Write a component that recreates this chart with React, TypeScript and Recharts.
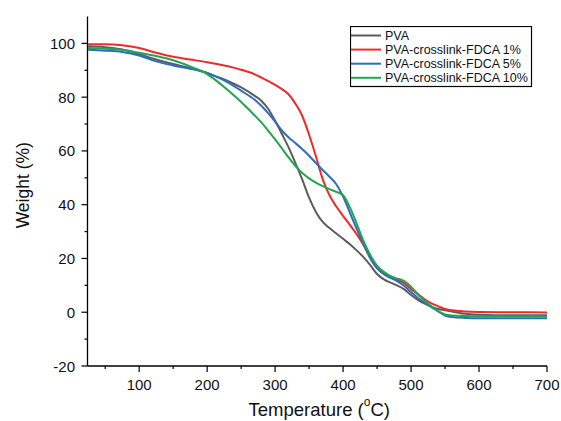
import React from 'react';
import { LineChart, Line, XAxis, YAxis, Legend } from 'recharts';

const temps = [25, 50, 75, 100, 125, 150, 175, 200, 210, 225, 240, 250, 270, 280, 290, 300, 310, 320, 330, 340, 350, 360, 370, 380, 390, 400, 410, 420, 430, 440, 450, 460, 470, 480, 490, 500, 510, 520, 530, 540, 550, 560, 580, 600, 650, 700];

const pva = [98.9, 98.6, 97.7, 96.0, 94.0, 92.3, 90.8, 89.0, 88.0, 86.6, 84.9, 83.6, 80.5, 78.6, 75.6, 71.2, 66.3, 61.2, 55.4, 49.3, 42.6, 37.3, 33.6, 31.3, 29.3, 27.3, 25.3, 23.0, 20.5, 17.5, 14.2, 12.2, 11.0, 9.9, 8.5, 6.4, 4.6, 3.2, 2.1, 1.2, 0.7, 0.3, -0.6, -0.9, -1.1, -1.1];

const fdca1 = [99.7, 99.7, 99.3, 98.3, 96.5, 95.0, 94.0, 93.0, 92.5, 91.8, 90.9, 90.2, 88.5, 87.3, 86.0, 84.6, 83.0, 81.0, 77.5, 73.0, 66.0, 58.0, 49.5, 43.5, 39.3, 35.8, 32.5, 29.0, 25.0, 20.5, 16.5, 14.2, 12.8, 12.0, 10.8, 8.6, 6.8, 4.8, 3.3, 2.2, 1.2, 0.7, 0.25, 0.1, 0.0, -0.1];

const fdca5 = [97.6, 97.3, 96.8, 95.5, 93.3, 91.8, 90.6, 89.0, 88.0, 86.2, 84.0, 82.4, 79.0, 76.7, 74.0, 70.9, 67.6, 65.0, 62.9, 60.6, 58.2, 55.5, 52.9, 50.4, 47.6, 43.0, 37.0, 31.0, 25.3, 20.0, 16.3, 14.2, 12.8, 11.5, 9.8, 7.5, 5.3, 3.6, 1.9, 0.3, -1.2, -1.8, -2.1, -2.2, -2.2, -2.2];

const fdca10 = [98.3, 98.0, 97.6, 96.5, 95.3, 93.7, 91.4, 88.6, 86.8, 83.8, 80.5, 78.2, 73.2, 70.5, 67.5, 64.3, 60.9, 57.5, 54.4, 51.8, 49.8, 48.2, 46.9, 45.8, 44.8, 43.5, 39.0, 33.0, 26.5, 21.3, 17.3, 15.0, 13.4, 12.5, 11.6, 9.5, 6.6, 4.3, 2.2, 0.3, -0.8, -1.2, -1.4, -1.5, -1.5, -1.5];

const seriesKeys = ['pva', 'fdca1', 'fdca5', 'fdca10'];
const seriesNames = ['PVA', 'PVA-crosslink-FDCA 1%', 'PVA-crosslink-FDCA 5%', 'PVA-crosslink-FDCA 10%'];
const seriesColors = ['#5c5c5c', '#ee2a2a', '#2e6cbf', '#22a550'];
const seriesValues = [pva, fdca1, fdca5, fdca10];

const xTicks = [50, 100, 150, 200, 250, 300, 350, 400, 450, 500, 550, 600, 650, 700];
const xLabelTicks = [100, 200, 300, 400, 500, 600, 700];
const yTicks = [-20, -10, 0, 10, 20, 30, 40, 50, 60, 70, 80, 90, 100];
const yLabelTicks = [-20, 0, 20, 40, 60, 80, 100];

const xDomain = [24, 700];
const yDomain = [-20, 110];

const FONT = '"Liberation Sans", Arial, sans-serif';

const data = temps.map((t, i) => {
  const row: any = { t };
  seriesKeys.forEach((k, j) => {
    row[k] = seriesValues[j][i];
  });
  return row;
});

const XTick = (props: any) => {
  const { x, y, payload } = props;
  const major = xLabelTicks.includes(payload.value);
  return (
    <g>
      <line x1={x} x2={x} y1={y} y2={y + (major ? 6 : 3)} stroke="#000" strokeWidth={1.2} />
      {major && (
        <text x={x} y={y + 18} textAnchor="middle" dominantBaseline="central" fontSize={15} fontFamily={FONT} fill="#111">
          {payload.value}
        </text>
      )}
    </g>
  );
};

const YTick = (props: any) => {
  const { x, y, payload } = props;
  const major = yLabelTicks.includes(payload.value);
  return (
    <g>
      <line x1={x} x2={x - (major ? 6 : 3)} y1={y} y2={y} stroke="#000" strokeWidth={1.2} />
      {major && (
        <text x={x - 12.5} y={y} textAnchor="end" dominantBaseline="central" fontSize={15} fontFamily={FONT} fill="#111">
          {payload.value}
        </text>
      )}
    </g>
  );
};

const YTitle = (props: any) => {
  const vb = props.viewBox || { x: 0, y: 16.5, width: 87.5, height: 349.5 };
  const cx = vb.x + 23;
  const cy = vb.y + vb.height / 2 - 6;
  return (
    <text transform={`translate(${cx},${cy}) rotate(-90)`} textAnchor="middle" dominantBaseline="central" fontSize={17.5} fontFamily={FONT} fill="#111">
      Weight (%)
    </text>
  );
};

const XTitle = (props: any) => {
  const vb = props.viewBox || { x: 87.5, y: 366, width: 459.5, height: 55 };
  const cx = vb.x + vb.width / 2 + 2;
  const cy = vb.y + 43;
  return (
    <text x={cx} y={cy} textAnchor="middle" dominantBaseline="central" fontSize={18.5} fontFamily={FONT} fill="#111">
      Temperature (
      <tspan fontSize={12} dy={-7}>o</tspan>
      <tspan dy={7}>C)</tspan>
    </text>
  );
};

const LegendBox = () => (
  <svg width={183} height={62} style={{ display: 'block' }}>
    <rect x={0.5} y={0.5} width={181} height={60} fill="#fff" stroke="#000" strokeWidth={1.2} />
    {seriesNames.map((n, i) => {
      const cy = 9.5 + i * 14.1;
      return (
        <g key={n}>
          <line x1={1} x2={31} y1={cy} y2={cy} stroke={seriesColors[i]} strokeWidth={2} />
          <text x={35} y={cy} dominantBaseline="central" fontSize={12.5} fontFamily={FONT} fill="#111">
            {n}
          </text>
        </g>
      );
    })}
  </svg>
);

export default function App() {
  return (
    <div style={{ position: 'absolute', left: 0, top: 0, width: 561, height: 421, background: '#fff' }}>
      <LineChart width={561} height={421} data={data} margin={{ top: 16.5, right: 14, bottom: 0, left: 0 }}>
        <XAxis
          dataKey="t"
          type="number"
          domain={xDomain}
          ticks={xTicks}
          interval={0}
          allowDataOverflow
          height={55}
          tickSize={0}
          tickMargin={0}
          tickLine={false}
          tick={<XTick />}
          axisLine={{ stroke: '#000', strokeWidth: 1.3 }}
          label={<XTitle />}
        />
        <XAxis
          xAxisId="top"
          orientation="top"
          dataKey="t"
          type="number"
          domain={xDomain}
          height={0}
          tick={false}
          tickLine={false}
          axisLine={{ stroke: '#000', strokeWidth: 1.3 }}
        />
        <YAxis
          type="number"
          domain={yDomain}
          ticks={yTicks}
          interval={0}
          allowDataOverflow
          width={87.5}
          tickSize={0}
          tickMargin={0}
          tickLine={false}
          tick={<YTick />}
          axisLine={{ stroke: '#000', strokeWidth: 1.3 }}
          label={<YTitle />}
        />
        <YAxis
          yAxisId="right"
          orientation="right"
          type="number"
          domain={yDomain}
          width={0}
          tick={false}
          tickLine={false}
          axisLine={{ stroke: '#000', strokeWidth: 1.3 }}
        />
        {seriesKeys.map((k, i) => (
          <Line
            key={k}
            dataKey={k}
            name={seriesNames[i]}
            type="monotone"
            stroke={seriesColors[i]}
            strokeWidth={2}
            dot={false}
            activeDot={false}
            isAnimationActive={false}
          />
        ))}
        <Legend
          verticalAlign="middle"
          align="center"
          layout="horizontal"
          wrapperStyle={{ left: 350, top: 26, width: 183, height: 62 }}
          content={() => <LegendBox />}
        />
      </LineChart>
    </div>
  );
}
